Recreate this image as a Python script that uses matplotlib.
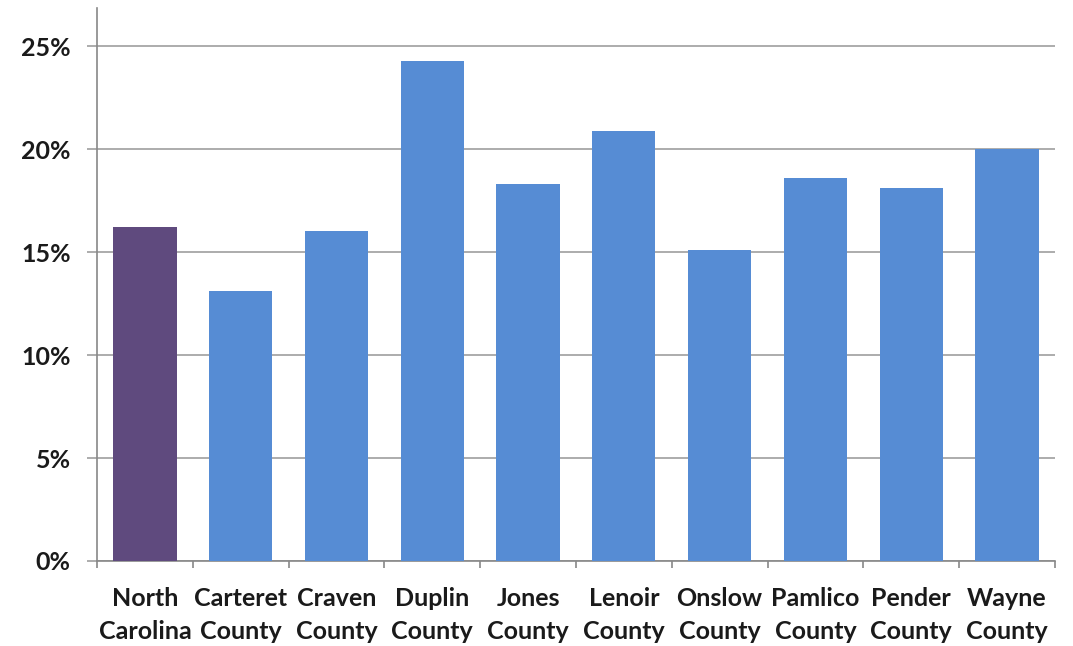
import matplotlib
matplotlib.use("Agg")
import matplotlib.pyplot as plt
from matplotlib.ticker import FuncFormatter

plt.rcParams['font.family'] = ['Lato', 'DejaVu Sans']

categories = ["North\nCarolina", "Carteret\nCounty", "Craven\nCounty", "Duplin\nCounty",
              "Jones\nCounty", "Lenoir\nCounty", "Onslow\nCounty", "Pamlico\nCounty",
              "Pender\nCounty", "Wayne\nCounty"]
values = [16.2, 13.1, 16.0, 24.3, 18.3, 20.9, 15.1, 18.6, 18.1, 20.0]
colors = ["#5F4A7E"] + ["#568CD4"] * 9
yticks = [0, 5, 10, 15, 20, 25]

fig = plt.figure(figsize=(10.73, 6.46), dpi=100)
ax = fig.add_axes([0.0904, 0.1316, 0.8928, 0.856])

x = range(len(categories))
ax.bar(x, values, width=0.66, color=colors, zorder=3)

ax.set_xlim(-0.5, len(categories) - 0.5)
ax.set_ylim(0, 26.85)
ax.set_yticks(yticks)
ax.yaxis.set_major_formatter(FuncFormatter(lambda v, p: f"{v:.0f}%"))
ax.grid(axis='y', color='#A6A6A6', linewidth=1.3, zorder=0)

# category boundaries get the tick marks, labels sit between them
ax.set_xticks([i + 0.5 for i in range(-1, len(categories))], minor=False)
ax.set_xticklabels([])
ax.set_xticks(list(x), minor=True)
ax.set_xticklabels(categories, minor=True, fontsize=18, fontweight='bold',
                   color='#1A1A1A', linespacing=1.5)
ax.tick_params(axis='x', which='minor', length=0, pad=19)
ax.tick_params(axis='x', which='major', length=5, color='#888888', width=1.2)
ax.tick_params(axis='y', length=7, color='#A6A6A6', width=1.3, labelsize=18,
               labelcolor='#1A1A1A', pad=12)
for lab in ax.get_yticklabels():
    lab.set_fontweight('bold')

for s in ['top', 'right']:
    ax.spines[s].set_visible(False)
ax.spines['left'].set_color('#888888')
ax.spines['bottom'].set_color('#888888')
ax.spines['left'].set_linewidth(1.2)
ax.spines['bottom'].set_linewidth(1.2)

fig.savefig("out.png", dpi=100)
